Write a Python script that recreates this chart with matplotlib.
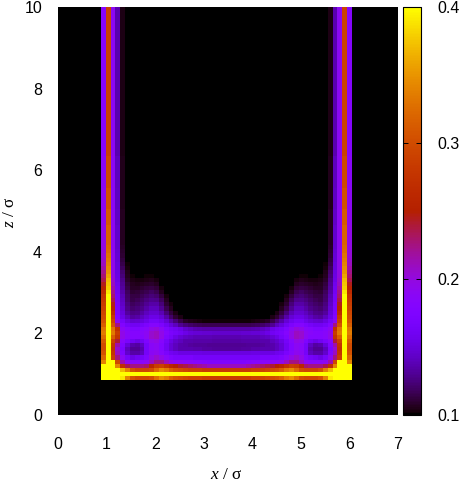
import numpy as np
import matplotlib
matplotlib.use('Agg')
import matplotlib.pyplot as plt
from matplotlib.colors import ListedColormap

plt.rcParams['font.family'] = ['Liberation Sans', 'DejaVu Sans']
plt.rcParams['mathtext.fontset'] = 'custom'
plt.rcParams['mathtext.rm'] = 'Liberation Serif'
plt.rcParams['mathtext.it'] = 'Liberation Serif:italic'

# density, in thousandths, left half of the pore, rows go upward
bottom_rows = [
    [420,420,420,420,390,340,305,295,295,295,300,325,345,335,315,305,300,295,290,290,290,285,285,285,285,285],
    [420,420,420,420,420,420,420,420,420,420,420,420,420,420,420,420,420,420,420,420,420,420,420,420,420,420],
    [420,420,420,420,370,340,305,295,295,295,300,325,345,335,315,305,300,295,290,290,290,285,285,285,285,285],
    [420,420,420,340,270,235,225,225,225,230,260,285,290,275,260,250,240,235,230,225,220,215,210,210,210,210],
    [340,420,420,295,215,190,185,185,185,190,210,225,225,210,195,190,190,185,185,180,180,178,175,175,175,175],
    [320,420,285,225,190,165,155,160,165,175,195,205,195,185,175,170,170,170,170,165,165,165,165,165,165,165],
    [305,420,275,210,175,145,135,135,140,165,188,192,182,170,160,157,153,153,153,153,153,152,152,152,152,152],
    [300,420,270,205,170,140,130,130,137,165,186,190,178,160,148,140,136,136,136,134,134,132,132,131,131,131],
    [300,420,275,215,175,150,136,133,142,165,186,190,178,160,148,140,136,134,132,131,131,131,130,130,130,130],
    [310,420,290,240,185,170,160,155,160,175,193,197,183,165,153,145,140,136,136,134,134,134,134,133,133,133],
    [325,420,315,275,195,185,180,180,180,190,205,210,195,175,165,155,147,143,141,138,138,138,138,137,137,137],
    [335,420,335,285,195,185,180,180,185,190,205,210,195,180,170,165,160,155,150,148,147,146,146,145,145,145],
    [330,420,330,270,190,180,175,175,180,185,195,200,190,175,165,160,155,145,140,137,136,135,135,135,135,135],
    [315,420,305,225,178,165,160,160,165,172,180,180,172,160,150,140,130,124,120,118,117,116,116,116,116,116],
    [305,420,290,190,165,152,145,146,150,156,165,165,158,148,135,124,115,108,105,104,103,102,102,102,102,102],
    [300,420,280,178,155,140,132,134,140,148,155,155,148,134,120,110,104,101],
    [295,420,265,172,150,132,126,128,133,140,146,146,138,124,112,104,101],
    [290,420,255,170,146,128,122,124,128,134,140,140,130,116,106,101],
    [285,420,245,168,143,125,118,120,124,130,134,134,124,110,103],
    [280,420,235,165,140,122,115,117,120,125,129,128,118,106,101],
    [275,400,228,165,138,120,113,114,117,121,124,122,112,103],
    [265,390,222,162,135,118,110,111,113,116,119,116,107,101],
    [255,380,215,160,132,115,108,108,110,112,114,111,103],
    [245,375,210,158,130,112,106,105,106,108,109,106,101],
    [235,370,205,155,127,109,104,103,103,104,105,103],
    [228,360,200,153,124,106,102,101,101,102,102,101],
    [222,350,198,152,122,105,101],
    [216,345,196,150,118,103],
    [210,340,195,150,115,102],
    [206,335,194,148,112],
    [202,330,193,147,110],
    [200,325,193,146,109],
    [198,322,192,145,108],
]

# higher up only the wall layers are left, they change slowly
wall_rows = [
    [196,318,192,145,107],
    [192,312,191,143,106],
    [190,305,190,142,105],
    [186,298,190,140,105],
    [182,290,190,137,104],
]
wall_repeat = [5, 4, 5, 8, 37]

cbar_ticks = [0.1, 0.2, 0.3, 0.4]
x_ticks = [0, 1, 2, 3, 4, 5, 6, 7]
z_ticks = [0, 2, 4, 6, 8, 10]


# gnuplot default palette (rgbformulae 7,5,15)
def gnuplot_cmap():
    t = np.linspace(0, 1, 256)
    r = np.sqrt(t)
    g = t ** 3
    b = np.clip(np.sin(2 * np.pi * t), 0, 1)
    return ListedColormap(np.column_stack([r, g, b]))


def build_grid():
    rows = list(bottom_rows)
    for row, n in zip(wall_rows, wall_repeat):
        rows += [row] * n
    half = np.full((len(rows), 26), 100.0)
    for i, row in enumerate(rows):
        half[i, :len(row)] = row
    # the pore is symmetric, mirror the right half
    return np.hstack([half, half[:, ::-1]]) / 1000


W, H = 461, 482
fig = plt.figure(figsize=(W / 100, H / 100), dpi=100)
ax = fig.add_axes([58 / W, 1 - 415 / H, 340 / W, 408 / H])
cax = fig.add_axes([403 / W, 1 - 415 / H, 18 / W, 408 / H])

grid = build_grid()
x_edges = np.linspace(0.885, 6.05, grid.shape[1] + 1)
z_edges = 0.86 + 0.1 * np.arange(grid.shape[0] + 1)

cmap = gnuplot_cmap()
ax.set_facecolor('black')
mesh = ax.pcolormesh(x_edges, z_edges, grid, cmap=cmap, vmin=0.1, vmax=0.4, antialiased=False)
ax.set_xlim(0, 7)
ax.set_ylim(0, 10)
ax.set_xticks(x_ticks)
ax.set_yticks(z_ticks)
ax.tick_params(length=0, labelsize=11.5)
ax.tick_params(axis='x', pad=15.5)
ax.tick_params(axis='y', pad=11.5)
for s in ax.spines.values():
    s.set_visible(False)

cb = fig.colorbar(mesh, cax=cax)
cb.set_ticks(cbar_ticks)
cb.set_ticklabels(['%.1f' % t for t in cbar_ticks])
cax.tick_params(axis='y', direction='in', length=3.5, width=0.7, left=True, right=True, labelsize=11.5, pad=11.5)
cb.outline.set_linewidth(0.8)

fig.text(226 / W, 1 - 474.5 / H, r'$x\ /\ \mathrm{\sigma}$', ha='center', va='center', fontsize=12.5)
fig.text(10 / W, 1 - 212 / H, r'$z\ /\ \mathrm{\sigma}$', ha='center', va='center', rotation=90, fontsize=12.5)

fig.savefig('out.png', dpi=100)
